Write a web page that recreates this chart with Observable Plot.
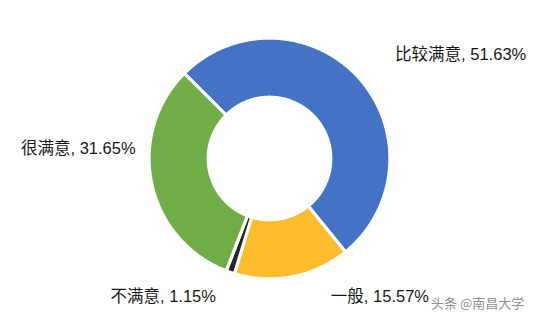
<!DOCTYPE html>
<html>
<head>
<meta charset="utf-8">
<script src="https://cdn.jsdelivr.net/npm/d3@7"></script>
<script src="https://cdn.jsdelivr.net/npm/@observablehq/plot@0.6"></script>
<style>
  html, body { margin: 0; padding: 0; background: #fff; }
  #wrap { position: relative; width: 538px; height: 318px; }
  #mark { position: absolute; left: 431px; top: 293px; font: 13px "Noto Sans CJK SC", sans-serif; color: #8f8f8f; white-space: nowrap; }
</style>
</head>
<body>
<div id="wrap"><div id="mark">头条 @南昌大学</div></div>
<script>
// Satisfaction survey shares (%), in drawing order clockwise
const categories = ["比较满意", "一般", "不满意", "很满意"];
const shares = [51.63, 15.57, 1.15, 31.65];
const colors = ["#4472C4", "#FCBC2C", "#262626", "#70AD47"];

const data = categories.map((c, i) => ({category: c, value: shares[i]}));

// Donut geometry, in units of the outer radius
const outer = 1.012, inner = 0.515;
const firstSliceAngle = -Math.PI / 4;

const arcs = d3.pie().sort(null).value(d => d.value)
  .startAngle(firstSliceAngle).endAngle(firstSliceAngle + 2 * Math.PI)(data);

// Each slice as a closed annular-sector polygon
const polys = arcs.flatMap(a => {
  const n = Math.max(4, Math.ceil((a.endAngle - a.startAngle) / 0.01));
  const pts = [];
  for (let i = 0; i <= n; i++) {
    const t = a.startAngle + (a.endAngle - a.startAngle) * i / n;
    pts.push({category: a.data.category, x: outer * Math.sin(t), y: outer * Math.cos(t)});
  }
  for (let i = n; i >= 0; i--) {
    const t = a.startAngle + (a.endAngle - a.startAngle) * i / n;
    pts.push({category: a.data.category, x: inner * Math.sin(t), y: inner * Math.cos(t)});
  }
  return pts;
});

// Labels sit just outside each slice's middle, nudged clear of the ring
const labelR = 1.15;
const nudge = {
  "比较满意": {dx: 24, dy: -12, anchor: "start"},
  "一般": {dx: 35, dy: 4, anchor: "start"},
  "不满意": {dx: -9, dy: 8.5, anchor: "end"},
  "很满意": {dx: 0, dy: -38.5, anchor: "end"}
};
const labelMarks = arcs.map(a => {
  const mid = (a.startAngle + a.endAngle) / 2;
  const n = nudge[a.data.category];
  return Plot.text([a], {
    x: () => labelR * Math.sin(mid),
    y: () => labelR * Math.cos(mid),
    text: d => `${d.data.category}, ${d.data.value.toFixed(2)}%`,
    textAnchor: n.anchor,
    dx: n.dx,
    dy: n.dy,
    fill: "#161616",
    fontSize: 16.5
  });
});

const chart = Plot.plot({
  width: 538,
  height: 318,
  marginLeft: 150,
  marginRight: 150,
  marginTop: 39,
  marginBottom: 41,
  x: {domain: [-1, 1], axis: null},
  y: {domain: [-1, 1], axis: null},
  color: {domain: categories, range: colors},
  style: {background: "#fff", fontFamily: "'Liberation Sans', 'Noto Sans CJK SC', sans-serif", overflow: "visible"},
  marks: [
    Plot.line(polys, {
      x: "x", y: "y", z: "category", fill: "category",
      stroke: "#fff", strokeWidth: 3.2, curve: "linear-closed"
    }),
    ...labelMarks
  ]
});
document.getElementById("wrap").prepend(chart);
</script>
</body>
</html>
